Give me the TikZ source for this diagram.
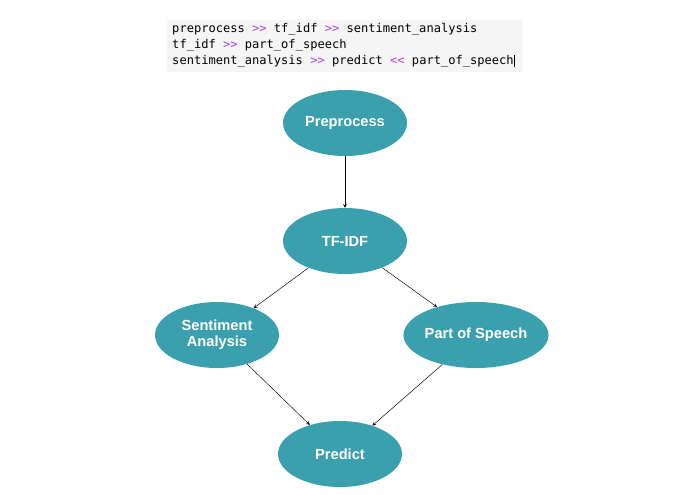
\documentclass[tikz,border=0pt]{standalone}
\usepackage{fontspec}
\setmainfont{Liberation Sans}
\newfontfamily\codefont{DejaVu Sans Mono}
\usetikzlibrary{shapes,arrows,positioning,shapes.geometric}
\definecolor{tealnode}{HTML}{3AA0AE}
\definecolor{opcolor}{HTML}{B040E0}
\newcommand{\op}[1]{\textcolor{opcolor}{#1}}
\newcommand{\us}{\textunderscore}

\begin{document}
\begin{tikzpicture}[x=0.03cm, y=-0.03cm,
    stage/.style={draw=none, ellipse, fill=tealnode, text=white, font=\bfseries\fontsize{12.5}{14}\selectfont, minimum width=3.72cm, minimum height=1.98cm, align=center, inner sep=0pt},
    link/.style={->, >=stealth, thin}]
    \useasboundingbox (0,0) rectangle (695,494);

    % Code
    \fill[gray!8] (167,20) rectangle (523,72);
    \node[anchor=north west, align=left, inner sep=0pt, font=\codefont\fontsize{10.3}{13.6}\selectfont] (code) at (172,23)
        {preprocess \op{>>} tf\us idf \op{>>} sentiment\us analysis\\
         tf\us idf \op{>>} part\us of\us speech\\
         sentiment\us analysis \op{>>} predict \op{<<} part\us of\us speech\rule[-0.25em]{0.6pt}{1.05em}};

    % Stages
    \node[stage] (pre) at (345,123) {Preprocess};
    \node[stage] (tfidf) at (345,241) {TF-IDF};
    \node[stage] (sent) at (217,335) {Sentiment\\Analysis};
    \node[stage] (pos) at (476,335) {Part of Speech};
    \node[stage] (pred) at (340,454) {Predict};

    \draw[link] (pre) -- (tfidf);
    \draw[link] (tfidf) -- (sent);
    \draw[link] (tfidf) -- (pos);
    \draw[link] (sent) -- (pred);
    \draw[link] (pos) -- (pred);

\end{tikzpicture}
\end{document}
